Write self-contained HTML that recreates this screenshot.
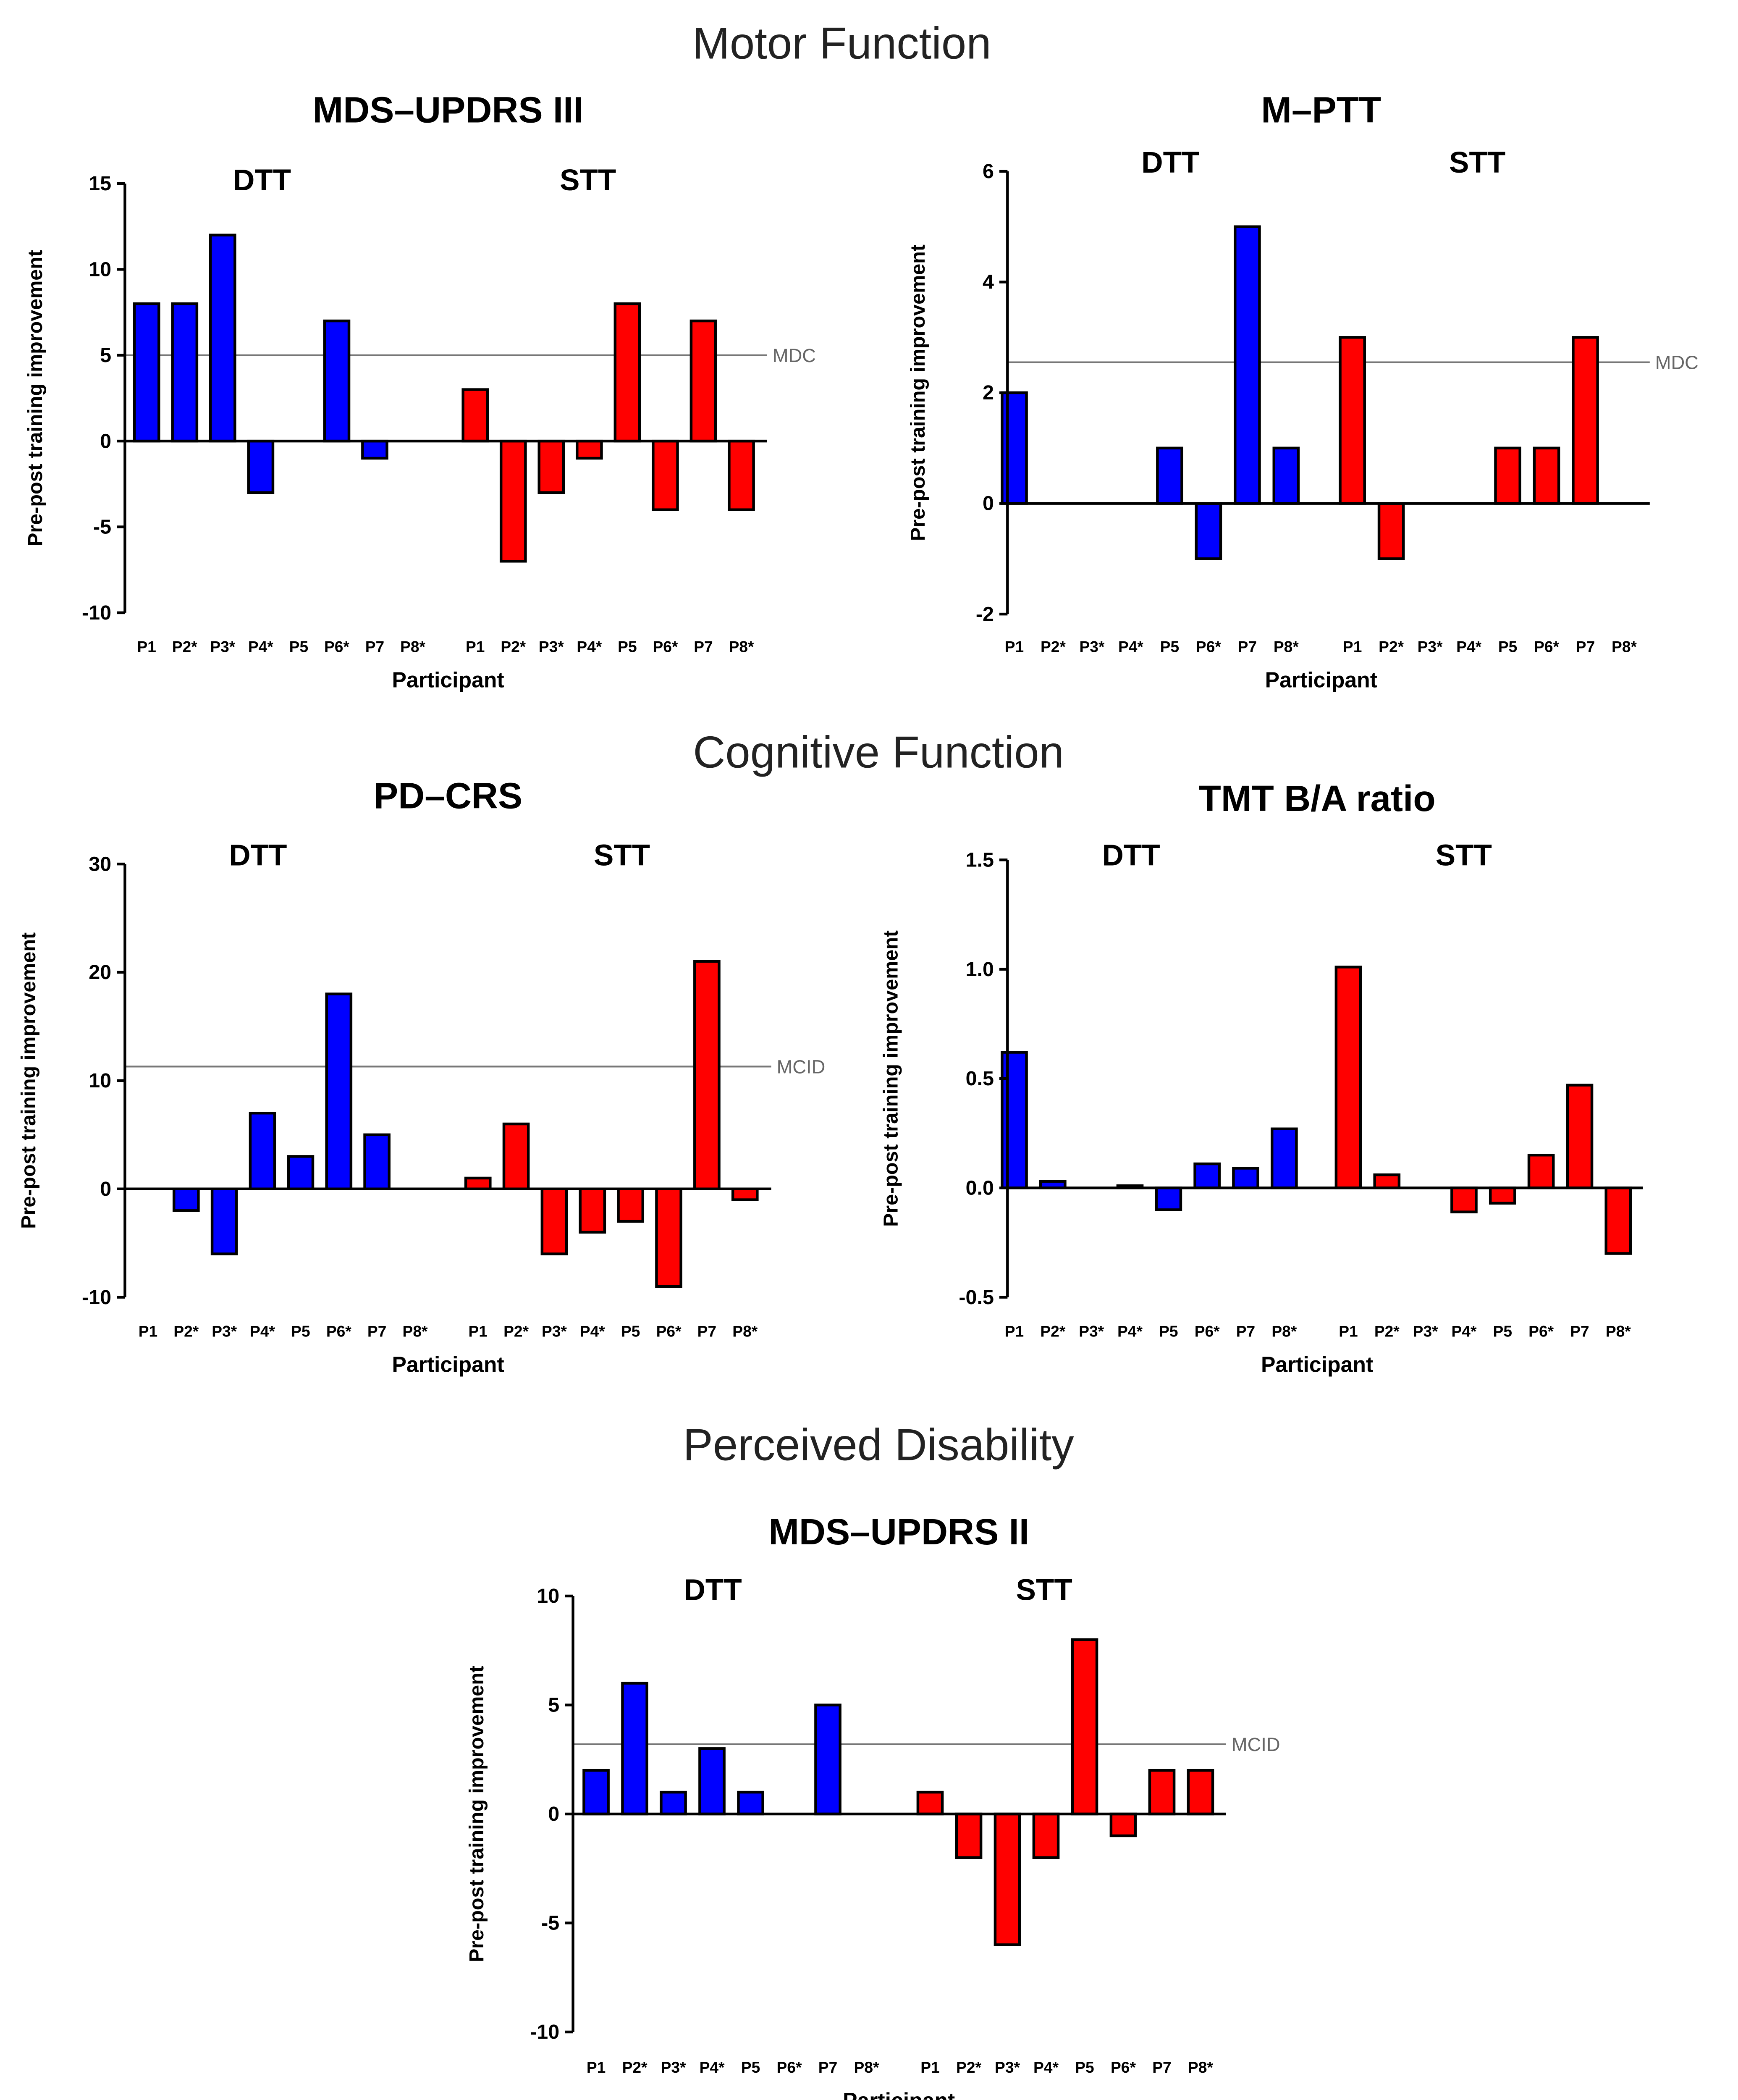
<!DOCTYPE html>
<html><head><meta charset="utf-8">
<style>
html,body{margin:0;padding:0;background:#fff;width:4139px;height:5094px;overflow:hidden;}
svg{display:block;}
text{font-family:"Liberation Sans",Arial,sans-serif;}
</style></head>
<body>
<svg id="fig" xmlns="http://www.w3.org/2000/svg" width="4139" height="5094" viewBox="0 0 1280 1575">
<rect width="1280" height="1575" fill="#fff"/>
<text x="620" y="43" font-size="33" text-anchor="middle" fill="#222">Motor Function</text>
<text x="647" y="565" font-size="33" text-anchor="middle" fill="#222">Cognitive Function</text>
<text x="647" y="1075" font-size="33" text-anchor="middle" fill="#222">Perceived Disability</text>
</svg>
<script>
const participants = ["P1","P2*","P3*","P4*","P5","P6*","P7","P8*"];
const c1_dtt = [8,8,12,-3,0,7,-1,0];
const c1_stt = [3,-7,-3,-1,8,-4,7,-4];
const c1_ticks = [15,10,5,0,-5,-10];
const c2_dtt = [2,0,0,0,1,-1,5,1];
const c2_stt = [3,-1,0,0,1,1,3,0];
const c2_ticks = [6,4,2,0,-2];
const c3_dtt = [0,-2,-6,7,3,18,5,0];
const c3_stt = [1,6,-6,-4,-3,-9,21,-1];
const c3_ticks = [30,20,10,0,-10];
const c4_dtt = [0.62,0.03,0,0.01,-0.1,0.11,0.09,0.27];
const c4_stt = [1.01,0.06,0,-0.11,-0.07,0.15,0.47,-0.3];
const c4_ticks = [1.5,1.0,0.5,0.0,-0.5];
const c4_tickLabels = ["1.5","1.0","0.5","0.0","-0.5"];
const c5_dtt = [2,6,1,3,1,0,5,0];
const c5_stt = [1,-2,-6,-2,8,-1,2,2];
const c5_ticks = [10,5,0,-5,-10];
const c1_ref = 5, c2_ref = 2.55, c3_ref = 11.3, c5_ref = 3.2;

const NS="http://www.w3.org/2000/svg";
const svg=document.getElementById('fig');
function mk(tag,attrs,parent){const e=document.createElementNS(NS,tag);for(const k in attrs)e.setAttribute(k,attrs[k]);(parent||svg).appendChild(e);return e;}
function txt(s,attrs,parent){const e=mk('text',attrs,parent);e.textContent=s;return e;}

function chart(cfg){
  const g=mk('g',{});
  
  
  const y=v=>cfg.yTop+(cfg.max-v)/(cfg.max-cfg.min)*(cfg.yBot-cfg.yTop);
  const x0=i=>cfg.dStart+i*cfg.step;
  const x1=i=>cfg.sStart+i*cfg.step;
  let t=txt(cfg.title,{x:cfg.titleX,y:cfg.titleY,'font-size':27,'font-weight':'bold','text-anchor':'middle'},g);
  
  t=txt('DTT',{x:cfg.dttX,y:cfg.grpY,'font-size':22,'font-weight':'bold','text-anchor':'middle'},g);
  
  t=txt('STT',{x:cfg.sttX,y:cfg.grpY,'font-size':22,'font-weight':'bold','text-anchor':'middle'},g);
  
  if(cfg.ref!==undefined){
    let l=mk('line',{x1:cfg.axX,x2:cfg.axEnd,y1:y(cfg.ref),y2:y(cfg.ref),stroke:'#777','stroke-width':1.3},g);
    
    t=txt(cfg.refLabel,{x:cfg.axEnd+4,y:y(cfg.ref)+5,'font-size':14,fill:'#666'},g);
    
  }
  const bw=18;
  function bars(vals,xf,col,grp){
    vals.forEach((v,i)=>{
      if(v===0)return;
      const yy=Math.min(y(v),y(0)),h=Math.abs(y(v)-y(0));
      const r=mk('rect',{x:xf(i)-bw/2,y:yy,width:bw,height:h,fill:col,stroke:'#000','stroke-width':2},g);
      
      
    });
  }
  bars(cfg.dtt,x0,'#0000ff','dtt');
  bars(cfg.stt,x1,'#ff0000','stt');
  let a=mk('line',{x1:cfg.axX,x2:cfg.axX,y1:cfg.yTop,y2:cfg.yBot,stroke:'#000','stroke-width':2},g);
  
  a=mk('line',{x1:cfg.axX,x2:cfg.axEnd,y1:y(0),y2:y(0),stroke:'#000','stroke-width':2},g);
  
  cfg.ticks.forEach((v,i)=>{
    mk('line',{x1:cfg.axX-6,x2:cfg.axX,y1:y(v),y2:y(v),stroke:'#000','stroke-width':2},g);
    const tt=txt(cfg.tickLabels?cfg.tickLabels[i]:String(v),{x:cfg.axX-10,y:y(v)+5,'font-size':15,'font-weight':'bold','text-anchor':'end'},g);
    
  });
  participants.forEach((p,i)=>{
    let tt=txt(p,{x:x0(i),y:cfg.tickY,'font-size':11.5,'font-weight':'bold','text-anchor':'middle'},g);
    
    tt=txt(p,{x:x1(i),y:cfg.tickY,'font-size':11.5,'font-weight':'bold','text-anchor':'middle'},g);
    
  });
  t=txt('Participant',{x:cfg.titleX,y:cfg.tickY+26,'font-size':16,'font-weight':'bold','text-anchor':'middle'},g);
  
  const cy=(cfg.yTop+cfg.yBot)/2;
  t=txt('Pre-post training improvement',{x:cfg.ylX,y:cy,'font-size':15,'font-weight':'bold','text-anchor':'middle',transform:`rotate(-90 ${cfg.ylX} ${cy})`},g);
  
}

chart({name:'mds-updrs-iii-chart',title:'MDS–UPDRS III',titleX:330,titleY:90,dttX:193,sttX:433,grpY:140,
  yTop:135,yBot:451,max:15,min:-10,axX:92,axEnd:565,dStart:108,sStart:350,step:28,
  dtt:c1_dtt,stt:c1_stt,ticks:c1_ticks,ref:c1_ref,refLabel:'MDC',tickY:480,ylX:31});
chart({name:'m-ptt-chart',title:'M–PTT',titleX:973,titleY:90,dttX:862,sttX:1088,grpY:127,
  yTop:126,yBot:452,max:6,min:-2,axX:742,axEnd:1215,dStart:747,sStart:996,step:28.6,
  dtt:c2_dtt,stt:c2_stt,ticks:c2_ticks,ref:c2_ref,refLabel:'MDC',tickY:480,ylX:681});
chart({name:'pd-crs-chart',title:'PD–CRS',titleX:330,titleY:595,dttX:190,sttX:458,grpY:637,
  yTop:636,yBot:955,max:30,min:-10,axX:92,axEnd:568,dStart:109,sStart:352,step:28.1,
  dtt:c3_dtt,stt:c3_stt,ticks:c3_ticks,ref:c3_ref,refLabel:'MCID',tickY:984,ylX:26});
chart({name:'tmt-ba-ratio-chart',title:'TMT B/A ratio',titleX:970,titleY:597,dttX:833,sttX:1078,grpY:637,
  yTop:633,yBot:955,max:1.5,min:-0.5,axX:742,axEnd:1210,dStart:747,sStart:993,step:28.4,
  dtt:c4_dtt,stt:c4_stt,ticks:c4_ticks,tickLabels:c4_tickLabels,tickY:984,ylX:661});
chart({name:'mds-updrs-ii-chart',title:'MDS–UPDRS II',titleX:662,titleY:1137,dttX:525,sttX:769,grpY:1178,
  yTop:1175,yBot:1496,max:10,min:-10,axX:422,axEnd:903,dStart:439,sStart:685,step:28.45,
  dtt:c5_dtt,stt:c5_stt,ticks:c5_ticks,ref:c5_ref,refLabel:'MCID',tickY:1526,ylX:356});
</script>
</body></html>
